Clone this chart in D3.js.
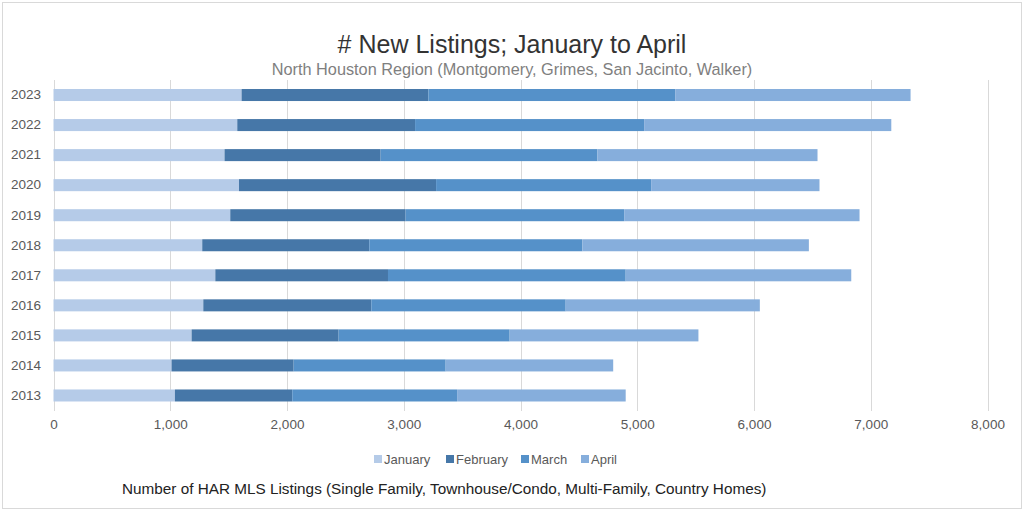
<!DOCTYPE html>
<html>
<head>
<meta charset="utf-8">
<script src="https://cdn.jsdelivr.net/npm/d3@7"></script>
<style>
  html, body { margin: 0; padding: 0; background: #fff; }
  svg { display: block; font-family: "Liberation Sans", Arial, sans-serif; }
</style>
</head>
<body>
<svg id="chart" width="1024" height="511"></svg>
<script>
// ---- Data ----
const years = ["2023","2022","2021","2020","2019","2018","2017","2016","2015","2014","2013"];
const months = ["January","February","March","April"];
const january  = [1611, 1574, 1465, 1589, 1514, 1274, 1386, 1283, 1183, 1011, 1040];
const february = [1600, 1523, 1337, 1688, 1502, 1431, 1479, 1439, 1259, 1046, 1005];
const march    = [2114, 1962, 1857, 1842, 1872, 1825, 2036, 1665, 1465, 1302, 1412];
const april    = [2016, 2117, 1885, 1442, 2016, 1940, 1932, 1663, 1617, 1435, 1444];
const xTicks = [0, 1000, 2000, 3000, 4000, 5000, 6000, 7000, 8000];
const colors = ["#b5cbe8", "#4677a8", "#5591c9", "#86aedc"];

const titleText = "# New Listings; January to April";
const subtitleText = "North Houston Region (Montgomery, Grimes, San Jacinto, Walker)";
const footerText = "Number of HAR MLS Listings (Single Family, Townhouse/Condo, Multi-Family, Country Homes)";

const rows = years.map((y, i) => ({
  year: y, January: january[i], February: february[i], March: march[i], April: april[i]
}));

const svg = d3.select("#chart");
const W = 1024, H = 511;

// border
svg.append("rect").attr("x", 2.5).attr("y", 2.5).attr("width", W - 5).attr("height", H - 5)
  .attr("fill", "#fff").attr("stroke", "#d9d9d9").attr("stroke-width", 1);

const x = d3.scaleLinear().domain([0, 8000]).range([53.5, 987.5]);
const y = d3.scaleBand().domain(years).range([80, 410.5]).paddingInner(0.6).paddingOuter(0.3);

// gridlines
svg.append("g").selectAll("line").data(xTicks).join("line")
  .attr("x1", d => Math.round(x(d)) + 0.5).attr("x2", d => Math.round(x(d)) + 0.5)
  .attr("y1", 80).attr("y2", 411)
  .attr("stroke", "#d9d9d9").attr("stroke-width", 1);

// stacked bars
const stack = d3.stack().keys(months)(rows);
const gBars = svg.append("g");
stack.forEach((layer, li) => {
  gBars.append("g").attr("fill", colors[li])
    .selectAll("rect").data(layer).join("rect")
    .attr("x", d => x(d[0]))
    .attr("width", d => x(d[1]) - x(d[0]))
    .attr("y", d => y(d.data.year))
    .attr("height", y.bandwidth());
});

// x axis labels
const xAxis = d3.axisBottom(x).tickValues(xTicks).tickFormat(d3.format(",")).tickSize(0).tickPadding(0);
const gx = svg.append("g").attr("transform", "translate(0,419)").call(xAxis);
gx.select(".domain").remove();
gx.selectAll("text").attr("font-size", "13.5px").attr("fill", "#595959")
  .attr("font-family", "'Liberation Sans', Arial, sans-serif");

// y axis labels
const yAxis = d3.axisLeft(y).tickSize(0).tickPadding(0);
const gy = svg.append("g").attr("transform", "translate(41,0)").call(yAxis);
gy.select(".domain").remove();
gy.selectAll("text").attr("font-size", "13.5px").attr("fill", "#595959")
  .attr("font-family", "'Liberation Sans', Arial, sans-serif");

// titles
svg.append("text").attr("x", 512).attr("y", 53).attr("text-anchor", "middle")
  .attr("font-size", "25px").attr("fill", "#333333").text(titleText);
svg.append("text").attr("x", 512).attr("y", 75).attr("text-anchor", "middle")
  .attr("font-size", "16.3px").attr("fill", "#7f7f7f").text(subtitleText);

// legend
const legendX = [374, 446, 521, 581];
const lg = svg.append("g");
months.forEach((m, i) => {
  lg.append("rect").attr("x", legendX[i]).attr("y", 455).attr("width", 8).attr("height", 8).attr("fill", colors[i]);
  lg.append("text").attr("x", legendX[i] + 10).attr("y", 463.5)
    .attr("font-size", "13px").attr("fill", "#595959").text(m);
});

// footer
svg.append("text").attr("x", 122).attr("y", 494)
  .attr("font-size", "15.3px").attr("fill", "#222222").text(footerText);
</script>
</body>
</html>
